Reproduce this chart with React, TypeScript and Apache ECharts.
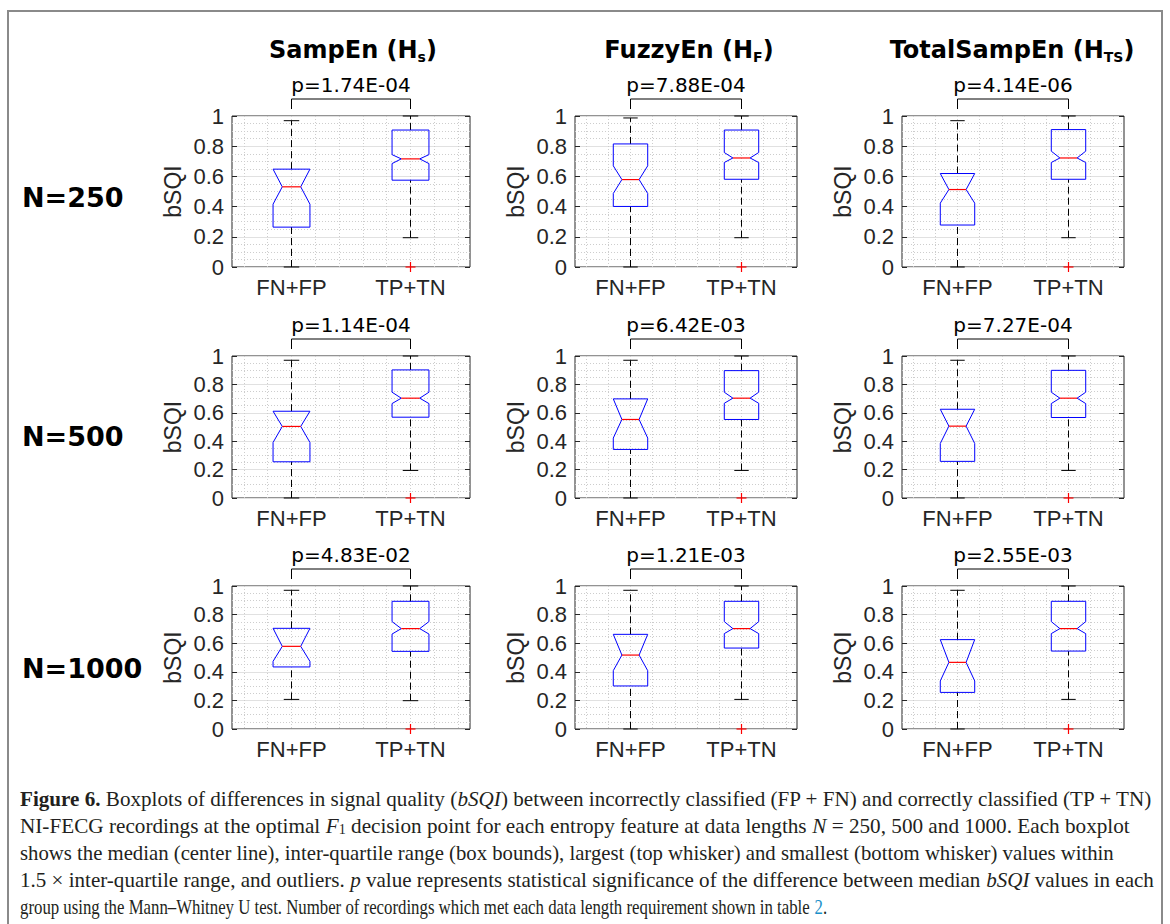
import React, { useEffect, useRef } from 'react';
import * as echarts from 'echarts';

// ---------------- data ----------------
const categories = ['FN+FP', 'TP+TN'];
const featureNames = ['SampEn', 'FuzzyEn', 'TotalSampEn'];
const featureSubscripts = ['s', 'F', 'TS'];
const rowLabels = ['N=250', 'N=500', 'N=1000'];

const pValuesN250 = ['1.74E-04', '7.88E-04', '4.14E-06'];
const pValuesN500 = ['1.14E-04', '6.42E-03', '7.27E-04'];
const pValuesN1000 = ['4.83E-02', '1.21E-03', '2.55E-03'];

// each box: [lowWhisker, q1, median, q3, highWhisker, notchLow, notchHigh]
const sampEnN250 = [[0, 0.264, 0.531, 0.648, 0.969, 0.416, 0.648], [0.194, 0.575, 0.716, 0.907, 1.0, 0.685, 0.744]];
const fuzzyEnN250 = [[0, 0.401, 0.579, 0.815, 0.987, 0.487, 0.670], [0.194, 0.581, 0.722, 0.907, 1.0, 0.692, 0.758]];
const totalSampEnN250 = [[0, 0.278, 0.513, 0.619, 0.969, 0.423, 0.619], [0.194, 0.581, 0.722, 0.910, 1.0, 0.692, 0.767]];

const sampEnN500 = [[0, 0.255, 0.504, 0.611, 0.970, 0.391, 0.611], [0.194, 0.569, 0.703, 0.902, 1.0, 0.665, 0.745]];
const fuzzyEnN500 = [[0, 0.342, 0.553, 0.698, 0.970, 0.422, 0.698], [0.194, 0.553, 0.703, 0.897, 1.0, 0.667, 0.745]];
const totalSampEnN500 = [[0, 0.258, 0.506, 0.625, 0.970, 0.384, 0.625], [0.194, 0.567, 0.703, 0.899, 1.0, 0.665, 0.745]];

const sampEnN1000 = [[0.207, 0.434, 0.578, 0.704, 0.970, 0.473, 0.704], [0.198, 0.543, 0.702, 0.893, 1.0, 0.664, 0.751]];
const fuzzyEnN1000 = [[0, 0.301, 0.517, 0.662, 0.970, 0.408, 0.662], [0.207, 0.566, 0.702, 0.893, 1.0, 0.667, 0.751]];
const totalSampEnN1000 = [[0, 0.256, 0.466, 0.625, 0.970, 0.336, 0.625], [0.207, 0.545, 0.702, 0.893, 1.0, 0.667, 0.751]];

// outliers per category (FN+FP, TP+TN)
const outliersAll = [[], [0]];

const panelStats = [
  [sampEnN250, fuzzyEnN250, totalSampEnN250],
  [sampEnN500, fuzzyEnN500, totalSampEnN500],
  [sampEnN1000, fuzzyEnN1000, totalSampEnN1000],
];
const panelPValues = [pValuesN250, pValuesN500, pValuesN1000];

const captionLines = [
  '{b|Figure 6.}{n| Boxplots of differences in signal quality (}{i|bSQI}{n|) between incorrectly classified (FP + FN) and correctly classified (TP + TN)}',
  '{n|NI-FECG recordings at the optimal }{i|F}{sub|1}{n| decision point for each entropy feature at data lengths }{i|N}{n| = 250, 500 and 1000. Each boxplot}',
  '{n|shows the median (center line), inter-quartile range (box bounds), largest (top whisker) and smallest (bottom whisker) values within}',
  '{n|1.5 × inter-quartile range, and outliers. }{i|p}{n| value represents statistical significance of the difference between median }{i|bSQI}{n| values in each}',
  '{n|group using the Mann–Whitney U test. Number of recordings which met each data length requirement shown in table }{blue|2}{n|.}',
];

// ---------------- layout ----------------
const colLeft = [232, 575, 902];
const colWidth = [238, 222, 222];
const rowTop = [116, 356, 586];
const rowHeight = [151, 142, 143];
const titleCenters = [353, 689, 1012];
const rowLabelY = [197, 436, 668];
const captionScaleX = [1.006, 1.01, 0.988, 1.003, 0.8];

const X_MIN = 5;
const X_MAX = 25;
const CAT_STEP = 10; // category i is at (i + 1) * CAT_STEP
const BOX_HALF = 1.55;
const CAP_HALF = 0.65;

const AXIS_COLOR = '#262626';
const SANS = 'Liberation Sans';

function renderBox(params: any, api: any) {
  const x = api.value(0);
  const low = api.value(1);
  const q1 = api.value(2);
  const med = api.value(3);
  const q3 = api.value(4);
  const high = api.value(5);
  const nlo = api.value(6);
  const nhi = api.value(7);
  const pt = (dx: number, v: number) => api.coord([x + dx, v]);
  const line = (a: number[], b: number[], style: any) => ({
    type: 'line',
    shape: { x1: a[0], y1: a[1], x2: b[0], y2: b[1] },
    style,
  });
  const dashed = { stroke: '#000', lineWidth: 1, lineDash: [7, 4] };
  const solid = { stroke: '#000', lineWidth: 1 };
  const hw = BOX_HALF;
  return {
    type: 'group',
    children: [
      line(pt(0, q3), pt(0, high), dashed),
      line(pt(0, low), pt(0, q1), dashed),
      line(pt(-CAP_HALF, high), pt(CAP_HALF, high), solid),
      line(pt(-CAP_HALF, low), pt(CAP_HALF, low), solid),
      {
        type: 'polygon',
        shape: {
          points: [
            pt(-hw, q1), pt(-hw, nlo), pt(-hw / 2, med), pt(-hw, nhi), pt(-hw, q3),
            pt(hw, q3), pt(hw, nhi), pt(hw / 2, med), pt(hw, nlo), pt(hw, q1),
          ],
        },
        style: { fill: 'none', stroke: '#0000ff', lineWidth: 1 },
      },
      line(pt(-hw / 2, med), pt(hw / 2, med), { stroke: '#ff0000', lineWidth: 1.2 }),
    ],
  };
}

function renderOutlier(params: any, api: any) {
  const c = api.coord([api.value(0), api.value(1)]);
  const s = 5;
  return {
    type: 'group',
    children: [
      { type: 'line', shape: { x1: c[0] - s, y1: c[1], x2: c[0] + s, y2: c[1] }, style: { stroke: '#ff0000', lineWidth: 1.2 } },
      { type: 'line', shape: { x1: c[0], y1: c[1] - s, x2: c[0], y2: c[1] + s }, style: { stroke: '#ff0000', lineWidth: 1.2 } },
    ],
  };
}

function makeBracketRenderer(pText: string) {
  return (params: any, api: any) => {
    const a = api.coord([api.value(0), 1]);
    const b = api.coord([api.value(1), 1]);
    const top = a[1];
    const y0 = top - 17;
    const y1 = top - 7;
    return {
      type: 'group',
      children: [
        {
          type: 'polyline',
          shape: { points: [[a[0], y1], [a[0], y0], [b[0], y0], [b[0], y1]] },
          style: { stroke: '#000', lineWidth: 1, fill: 'none' },
        },
        {
          type: 'text',
          x: (a[0] + b[0]) / 2,
          y: top - 31,
          style: {
            text: 'p=' + pText,
            fontSize: 20,
            fontFamily: 'DejaVu Sans',
            fill: '#000',
            align: 'center',
            verticalAlign: 'middle',
          },
        },
      ],
    };
  };
}

function buildOption() {
  const grid: any[] = [];
  const xAxis: any[] = [];
  const yAxis: any[] = [];
  const series: any[] = [];

  for (let r = 0; r < 3; r++) {
    for (let c = 0; c < 3; c++) {
      const gi = r * 3 + c;
      grid.push({
        left: colLeft[c],
        top: rowTop[r],
        width: colWidth[c],
        height: rowHeight[r],
        show: true,
        borderColor: AXIS_COLOR,
        borderWidth: 1,
        backgroundColor: '#fff',
      });
      xAxis.push({
        gridIndex: gi,
        type: 'value',
        min: X_MIN,
        max: X_MAX,
        interval: 1,
        axisLine: { show: false },
        axisTick: { show: false },
        splitLine: {
          show: true,
          showMinLine: true,
          showMaxLine: true,
          lineStyle: { color: ['rgba(0,0,0,0)', '#cdcdcd'], type: [1, 2], width: 1 },
        },
        axisLabel: {
          fontSize: 22,
          fontFamily: SANS,
          color: AXIS_COLOR,
          margin: 9,
          formatter: (v: number) => {
            const idx = Math.round(v / CAT_STEP) - 1;
            return Math.abs(v - (idx + 1) * CAT_STEP) < 1e-6 && categories[idx] ? categories[idx] : '';
          },
        },
      });
      yAxis.push({
        gridIndex: gi,
        type: 'value',
        min: 0,
        max: 1,
        interval: 0.2,
        axisLine: { show: false },
        axisTick: { show: true, inside: true, length: 5, lineStyle: { color: AXIS_COLOR } },
        axisLabel: { fontSize: 22, fontFamily: SANS, color: AXIS_COLOR, margin: 8 },
        splitLine: { show: true, lineStyle: { color: '#e1e1e1', width: 1 } },
        minorTick: { show: false, splitNumber: 4 },
        minorSplitLine: { show: true, lineStyle: { color: '#cdcdcd', type: [1, 2], width: 1 } },
        name: 'bSQI',
        nameLocation: 'middle',
        nameRotate: 90,
        nameGap: 48,
        nameTextStyle: { fontSize: 23, fontFamily: SANS, color: AXIS_COLOR },
      });
      yAxis.push({
        gridIndex: gi,
        type: 'value',
        position: 'right',
        min: 0,
        max: 1,
        interval: 0.2,
        axisLine: { show: false },
        axisTick: { show: true, inside: true, length: 5, lineStyle: { color: AXIS_COLOR } },
        axisLabel: { show: false },
        splitLine: { show: false },
      });

      const stats = panelStats[r][c];
      series.push({
        type: 'custom',
        xAxisIndex: gi,
        yAxisIndex: gi * 2,
        renderItem: renderBox,
        data: stats.map((s, i) => [(i + 1) * CAT_STEP, ...s]),
        z: 3,
      });
      const outData: number[][] = [];
      outliersAll.forEach((list, i) => list.forEach((v) => outData.push([(i + 1) * CAT_STEP, v])));
      series.push({
        type: 'custom',
        xAxisIndex: gi,
        yAxisIndex: gi * 2,
        renderItem: renderOutlier,
        data: outData,
        z: 4,
      });
      series.push({
        type: 'custom',
        xAxisIndex: gi,
        yAxisIndex: gi * 2,
        renderItem: makeBracketRenderer(panelPValues[r][c]),
        data: [[CAT_STEP, 2 * CAT_STEP]],
        clip: false,
        z: 4,
      });
    }
  }

  const graphic: any[] = [
    {
      type: 'rect',
      shape: { x: 8, y: 11, width: 1154, height: 1000 },
      style: { fill: 'none', stroke: '#8a8a8a', lineWidth: 2 },
      z: 0,
    },
  ];
  for (let c = 0; c < 3; c++) {
    graphic.push({
      type: 'text',
      x: titleCenters[c],
      y: 50,
      style: {
        text: `{b|${featureNames[c]} (H}{s|${featureSubscripts[c]}}{b|)}`,
        rich: {
          b: { fontSize: 24, fontWeight: 'bold', fontFamily: 'DejaVu Sans', fill: '#000' },
          s: { fontSize: 14, fontWeight: 'bold', fontFamily: 'DejaVu Sans', fill: '#000', verticalAlign: 'bottom', padding: [0, 0, -2, 0] },
        },
        align: 'center',
        verticalAlign: 'middle',
      },
    });
  }
  for (let r = 0; r < 3; r++) {
    graphic.push({
      type: 'text',
      x: 22,
      y: rowLabelY[r],
      style: {
        text: rowLabels[r],
        fontSize: 27,
        fontWeight: 'bold',
        fontFamily: 'DejaVu Sans',
        fill: '#000',
        align: 'left',
        verticalAlign: 'middle',
      },
    });
  }
  const capBase = { fontSize: 21, fontFamily: 'Liberation Serif', fill: '#231f20' };
  captionLines.forEach((txt, i) => {
    graphic.push({
      type: 'text',
      x: 20,
      y: 799 + i * 27,
      scaleX: captionScaleX[i],
      style: {
        text: txt,
        align: 'left',
        verticalAlign: 'middle',
        rich: {
          n: { ...capBase },
          b: { ...capBase, fontWeight: 'bold' },
          i: { ...capBase, fontStyle: 'italic' },
          sub: { ...capBase, fontSize: 14, verticalAlign: 'bottom' },
          blue: { ...capBase, fill: '#1a8fc9' },
        },
      },
    });
  });

  return {
    animation: false,
    backgroundColor: '#fff',
    grid,
    xAxis,
    yAxis,
    series,
    graphic,
  };
}

export default function App() {
  const ref = useRef<HTMLDivElement>(null);
  useEffect(() => {
    document.body.style.margin = '0';
    const chart = echarts.init(ref.current as HTMLDivElement, null, { renderer: 'svg' });
    chart.setOption(buildOption() as any);
    return () => chart.dispose();
  }, []);
  return <div ref={ref} style={{ width: 1170, height: 924 }} />;
}
